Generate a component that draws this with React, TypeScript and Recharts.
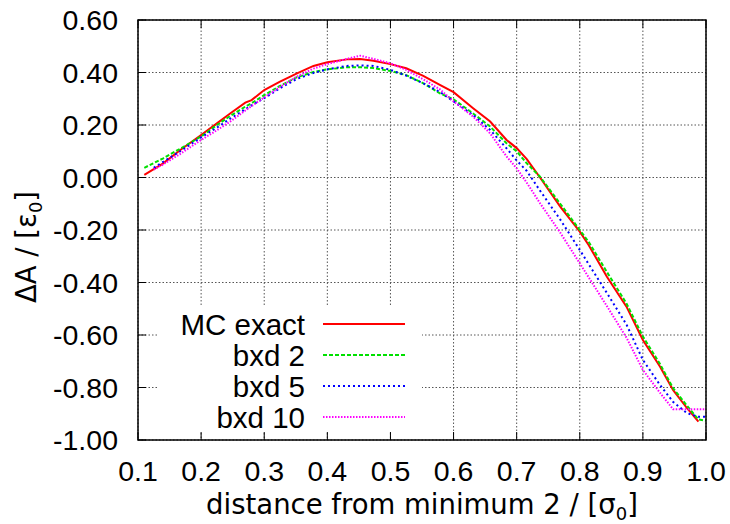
import React from "react";
import { LineChart, Line, XAxis, YAxis, CartesianGrid } from "recharts";

// Plot geometry (gnuplot-like frame)
const W = 730;
const H = 524;
const PL = 138;
const PR = 706;
const PT = 20;
const PB = 440;
const TICK = 8;
const SANS = "'Liberation Sans', Arial, sans-serif";
const DEJAVU = "'DejaVu Sans', sans-serif";
const X_AXIS_H = 60;
const Y_AXIS_W = 100;
const MIRROR = 10;

const X_TICKS = [0.1, 0.2, 0.3, 0.4, 0.5, 0.6, 0.7, 0.8, 0.9, 1.0];
const Y_TICKS = [0.6, 0.4, 0.2, 0, -0.2, -0.4, -0.6, -0.8, -1.0];

const distance = [
  0.11, 0.125, 0.14, 0.167, 0.2, 0.225, 0.246, 0.27, 0.28, 0.3, 0.325, 0.352,
  0.378, 0.4, 0.431, 0.452, 0.473, 0.5, 0.525, 0.552, 0.579, 0.6, 0.631, 0.658,
  0.684, 0.7, 0.716, 0.737, 0.769, 0.8, 0.814, 0.843, 0.874, 0.9, 0.927, 0.948,
  0.97, 0.988, 1.0,
];

const mcExact = [
  0.01, 0.032, 0.054, 0.105, 0.162, 0.206, 0.244, 0.285, 0.295, 0.333, 0.365,
  0.397, 0.425, 0.439, 0.45, 0.451, 0.445, 0.432, 0.416, 0.387, 0.352, 0.325,
  0.264, 0.213, 0.143, 0.112, 0.07, 0.0, -0.111, -0.206, -0.257, -0.378, -0.492,
  -0.619, -0.72, -0.81, -0.879, -0.93, null,
];

const bxd2 = [
  0.037, 0.055, 0.073, 0.11, 0.156, 0.2, 0.234, 0.27, 0.283, 0.314, 0.349,
  0.382, 0.402, 0.412, 0.42, 0.42, 0.417, 0.406, 0.39, 0.359, 0.32, 0.298,
  0.244, 0.194, 0.13, 0.1, 0.054, 0.003, -0.1, -0.2, -0.245, -0.36, -0.48,
  -0.606, -0.71, -0.803, -0.87, -0.922, -0.926,
];

const bxd5 = [
  null, 0.037, 0.06, 0.1, 0.153, 0.19, 0.224, 0.26, 0.275, 0.302, 0.34, 0.376,
  0.398, 0.412, 0.425, 0.427, 0.425, 0.41, 0.388, 0.359, 0.325, 0.29, 0.238,
  0.181, 0.111, 0.065, 0.025, -0.05, -0.16, -0.276, -0.33, -0.44, -0.56,
  -0.695, -0.79, -0.855, -0.898, -0.911, -0.911,
];

const bxd10 = [
  null, 0.03, 0.05, 0.09, 0.143, 0.18, 0.213, 0.255, 0.272, 0.305, 0.345,
  0.385, 0.415, 0.432, 0.452, 0.464, 0.452, 0.435, 0.41, 0.374, 0.335, 0.29,
  0.232, 0.168, 0.08, 0.035, -0.02, -0.098, -0.21, -0.327, -0.38, -0.49, -0.61,
  -0.733, -0.82, -0.883, -0.883, -0.883, -0.883,
];

const data = distance.map((x, i) => ({
  x,
  mc: mcExact[i],
  b2: bxd2[i],
  b5: bxd5[i],
  b10: bxd10[i],
}));

const SERIES = [
  { key: "mc", name: "MC exact", color: "#ff0000", dash: undefined },
  { key: "b2", name: "bxd 2", color: "#00e000", dash: "4 2" },
  { key: "b5", name: "bxd 5", color: "#0000ff", dash: "2 3" },
  { key: "b10", name: "bxd 10", color: "#ff00ff", dash: "1.5 1.5" },
];

/* ---- ticks drawn inward, gnuplot style ---- */

function BottomTick({ x, y, payload }: any) {
  return (
    <g>
      <line x1={x} x2={x} y1={y} y2={y - TICK} stroke="#000" strokeWidth={1} />
      <text x={x} y={y + 41} textAnchor="middle" fontFamily={SANS} fontSize={28.5} fill="#000">
        {Number(payload.value).toFixed(1)}
      </text>
    </g>
  );
}

function TopTick({ x, y }: any) {
  return <line x1={x} x2={x} y1={y} y2={y + TICK} stroke="#000" strokeWidth={1} />;
}

function LeftTick({ x, y, payload }: any) {
  return (
    <g>
      <line x1={x} x2={x + TICK} y1={y} y2={y} stroke="#000" strokeWidth={1} />
      <text x={x - 20} y={y + 10} textAnchor="end" fontFamily={SANS} fontSize={28.5} fill="#000">
        {Number(payload.value).toFixed(2)}
      </text>
    </g>
  );
}

function RightTick({ x, y }: any) {
  return <line x1={x} x2={x - TICK} y1={y} y2={y} stroke="#000" strokeWidth={1} />;
}

export default function App() {
  const legendTop = 324;
  const legendStep = 31;

  return (
    <div style={{ position: "relative", width: W, height: H, background: "#fff" }}>
      <style>{`body{margin:0;}`}</style>
      <LineChart
        width={W}
        height={H}
        data={data}
        margin={{
          top: PT - MIRROR,
          right: W - PR - MIRROR,
          bottom: H - PB - X_AXIS_H,
          left: PL - Y_AXIS_W,
        }}
      >
        <CartesianGrid stroke="#555" strokeDasharray="1.5 2" strokeWidth={1} />
        <XAxis
          dataKey="x"
          type="number"
          domain={[0.1, 1.0]}
          ticks={X_TICKS}
          allowDataOverflow
          height={X_AXIS_H}
          tickSize={0}
          tickMargin={0}
          axisLine={false}
          tickLine={false}
          tick={BottomTick}
          interval={0}
        />
        <XAxis
          xAxisId="top"
          orientation="top"
          dataKey="x"
          type="number"
          domain={[0.1, 1.0]}
          ticks={X_TICKS}
          height={MIRROR}
          tickSize={0}
          tickMargin={0}
          axisLine={false}
          tickLine={false}
          tick={TopTick}
          interval={0}
        />
        <YAxis
          type="number"
          domain={[-1.0, 0.6]}
          ticks={Y_TICKS}
          allowDataOverflow
          width={Y_AXIS_W}
          tickSize={0}
          tickMargin={0}
          axisLine={false}
          tickLine={false}
          tick={LeftTick}
          interval={0}
        />
        <YAxis
          yAxisId="right"
          orientation="right"
          type="number"
          domain={[-1.0, 0.6]}
          ticks={Y_TICKS}
          width={MIRROR}
          tickSize={0}
          tickMargin={0}
          axisLine={false}
          tickLine={false}
          tick={RightTick}
          interval={0}
        />
        {SERIES.map((s) => (
          <Line
            key={s.key}
            type="linear"
            dataKey={s.key}
            name={s.name}
            stroke={s.color}
            strokeWidth={2}
            strokeDasharray={s.dash}
            dot={false}
            activeDot={false}
            isAnimationActive={false}
          />
        ))}
      </LineChart>

      <svg
        width={W}
        height={H}
        style={{ position: "absolute", left: 0, top: 0, pointerEvents: "none" }}
      >
        {/* opaque key box */}
        <rect x={157} y={306} width={265} height={125} fill="#fff" />
        {SERIES.map((s, i) => {
          const y = legendTop + i * legendStep;
          return (
            <g key={s.key}>
              <text x={305} y={y + 10.5} textAnchor="end" fontFamily={SANS} fontSize={29.5} fill="#000">
                {s.name}
              </text>
              <line
                x1={323}
                x2={405}
                y1={y}
                y2={y}
                stroke={s.color}
                strokeWidth={2}
                strokeDasharray={s.dash}
              />
            </g>
          );
        })}

        {/* frame */}
        <rect x={PL} y={PT} width={PR - PL} height={PB - PT} fill="none" stroke="#000" strokeWidth={1.5} />

        {/* axis titles */}
        <text x={(PL + PR) / 2} y={514} textAnchor="middle" fontFamily={DEJAVU} fontSize={27.5} fill="#000">
          distance from minimum 2 / [σ<tspan fontSize={18} dy={6}>0</tspan>
          <tspan dy={-6}>]</tspan>
        </text>
        <text
          transform="translate(36,247) rotate(-90)"
          textAnchor="middle"
          fontFamily={DEJAVU}
          fontSize={27.5}
          fill="#000"
        >
          ΔA / [ε<tspan fontSize={18} dy={6}>0</tspan>
          <tspan dy={-6}>]</tspan>
        </text>
      </svg>
    </div>
  );
}
